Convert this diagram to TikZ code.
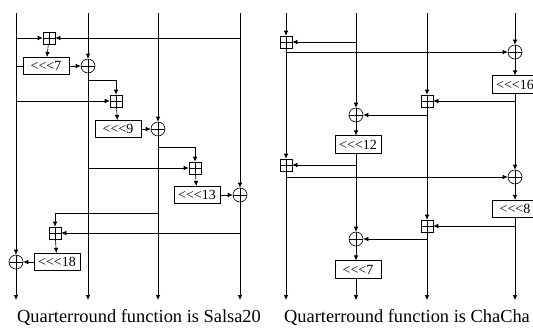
\documentclass[tikz,border=0pt]{standalone}
\usepackage{fontspec}
\setmainfont{Liberation Serif}
\usetikzlibrary{arrows.meta, positioning}
\newcommand{\rotl}{<\kern0pt<\kern0pt<}
\tikzstyle{rotbox} = [rectangle, draw=black, minimum width=46pt, minimum height=17.5pt, inner sep=0pt, font=\fontsize{14}{15}\selectfont]
\tikzstyle{addbox} = [rectangle, draw=black, minimum size=12pt, inner sep=0pt, path picture={\draw (path picture bounding box.north) -- (path picture bounding box.south) (path picture bounding box.west) -- (path picture bounding box.east);}]
\tikzstyle{xorbox} = [circle, draw=black, minimum size=14pt, inner sep=0pt, path picture={\draw (path picture bounding box.north) -- (path picture bounding box.south) (path picture bounding box.west) -- (path picture bounding box.east);}]
\tikzstyle{arrow} = [->, >={Latex[length=5pt,width=4.5pt]}]
\tikzstyle{caption} = [font=\fontsize{18.4}{20}\selectfont, anchor=base]

\begin{document}
\begin{tikzpicture}[x=1pt, y=-1pt, line width=0.6pt]
    \useasboundingbox (0,0) rectangle (533,327);

    % Salsa20 columns
    \coordinate (s0t) at (16,13);  \coordinate (s0b) at (16,300);
    \coordinate (s1t) at (88,13);  \coordinate (s1b) at (88,300);
    \coordinate (s2t) at (158,13); \coordinate (s2b) at (158,300);
    \coordinate (s3t) at (240,13); \coordinate (s3b) at (240,300);

    \node (add1) [addbox] at (49,38) {};
    \node (rot7) [rotbox] at (46,66) {\rotl7};
    \node (xor1) [xorbox] at (88,66) {};
    \node (add2) [addbox] at (116,101) {};
    \node (rot9) [rotbox] at (118,129) {\rotl9};
    \node (xor2) [xorbox] at (158,129) {};
    \node (add3) [addbox] at (195,168) {};
    \node (rot13) [rotbox] at (197,195) {\rotl13};
    \node (xor3) [xorbox] at (240,195) {};
    \node (add4) [addbox] at (55,233) {};
    \node (rot18) [rotbox] at (57,262) {\rotl18};
    \node (xor4) [xorbox] at (16,262) {};

    \coordinate (br1) at (88,80);
    \coordinate (br2) at (158,147);
    \coordinate (br3) at (158,213);

    \draw [arrow] (s0t) -- (xor4);
    \draw [arrow] (xor4) -- (s0b);
    \draw [arrow] (s1t) -- (xor1);
    \draw [arrow] (xor1) -- (s1b);
    \draw [arrow] (s2t) -- (xor2);
    \draw [arrow] (xor2) -- (s2b);
    \draw [arrow] (s3t) -- (xor3);
    \draw [arrow] (xor3) -- (s3b);

    \draw [arrow] (s0t |- add1) -- (add1);
    \draw [arrow] (s3t |- add1) -- (add1);
    \draw [arrow] (add1) -- (rot7);
    \draw (s0t |- rot7) -- (rot7);
    \draw [arrow] (rot7) -- (xor1);

    \draw [arrow] (br1) -| (add2);
    \draw [arrow] (s0t |- add2) -- (add2);
    \draw [arrow] (add2) -- (rot9);
    \draw [arrow] (rot9) -- (xor2);

    \draw [arrow] (br2) -| (add3);
    \draw [arrow] (s1t |- add3) -- (add3);
    \draw [arrow] (add3) -- (rot13);
    \draw [arrow] (rot13) -- (xor3);

    \draw [arrow] (br3) -| (add4);
    \draw [arrow] (s3t |- add4) -- (add4);
    \draw [arrow] (add4) -- (rot18);
    \draw [arrow] (rot18) -- (xor4);

    % ChaCha columns
    \coordinate (c0t) at (286,13); \coordinate (c0b) at (286,300);
    \coordinate (c1t) at (356,13); \coordinate (c1b) at (356,300);
    \coordinate (c2t) at (427,13); \coordinate (c2b) at (427,300);
    \coordinate (c3t) at (515,13); \coordinate (c3b) at (515,300);

    \node (cadd1) [addbox] at (286,42) {};
    \node (cxor1) [xorbox] at (515,52) {};
    \node (rot16) [rotbox] at (515,84.5) {\rotl16};
    \node (cadd2) [addbox] at (427,101) {};
    \node (cxor2) [xorbox] at (356,115) {};
    \node (rot12) [rotbox] at (358,144.5) {\rotl12};
    \node (cadd3) [addbox] at (286,165) {};
    \node (cxor3) [xorbox] at (515,177) {};
    \node (rot8) [rotbox] at (515,209) {\rotl8};
    \node (cadd4) [addbox] at (427,226) {};
    \node (cxor4) [xorbox] at (356,239) {};
    \node (rotc7) [rotbox] at (358,269.5) {\rotl7};

    \draw [arrow] (c0t) -- (cadd1);
    \draw [arrow] (cadd1) -- (cadd3);
    \draw [arrow] (cadd3) -- (c0b);
    \draw [arrow] (c1t) -- (cxor2);
    \draw [arrow] (cxor2) -- (cxor2 |- rot12.north);
    \draw [arrow] (c1t |- rot12.south) -- (cxor4);
    \draw [arrow] (cxor4) -- (cxor4 |- rotc7.north);
    \draw [arrow] (c1t |- rotc7.south) -- (c1b);
    \draw [arrow] (c2t) -- (cadd2);
    \draw [arrow] (cadd2) -- (cadd4);
    \draw [arrow] (cadd4) -- (c2b);
    \draw [arrow] (c3t) -- (cxor1);
    \draw [arrow] (cxor1) -- (rot16);
    \draw [arrow] (rot16) -- (cxor3);
    \draw [arrow] (cxor3) -- (rot8);
    \draw [arrow] (rot8) -- (c3b);

    \draw [arrow] (c1t |- cadd1) -- (cadd1);
    \draw [arrow] (c0t |- cxor1) -- (cxor1);
    \draw [arrow] (c3t |- cadd2) -- (cadd2);
    \draw [arrow] (c2t |- cxor2) -- (cxor2);
    \draw [arrow] (c1t |- cadd3) -- (cadd3);
    \draw [arrow] (c0t |- cxor3) -- (cxor3);
    \draw [arrow] (c3t |- cadd4) -- (cadd4);
    \draw [arrow] (c2t |- cxor4) -- (cxor4);

    \node (capsalsa) [caption] at (139,322) {Quarterround function is Salsa20};
    \node (capchacha) [caption] at (407,322) {Quarterround function is ChaCha};

\end{tikzpicture}
\end{document}
